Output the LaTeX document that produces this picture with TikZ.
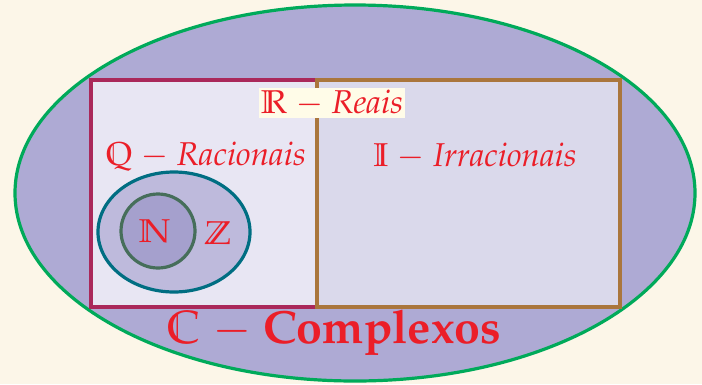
\documentclass[tikz,border=0pt]{standalone}
\usepackage[T1]{fontenc}
\usepackage{mathpazo}
\usepackage{tikz}
\definecolor{creme}{RGB}{252,246,232}
\definecolor{lilas}{RGB}{174,170,212}
\definecolor{verdeC}{RGB}{0,170,90}
\definecolor{bordoQ}{RGB}{170,40,90}
\definecolor{fundoQ}{RGB}{232,230,243}
\definecolor{marromI}{RGB}{170,118,60}
\definecolor{fundoI}{RGB}{218,217,235}
\definecolor{tealZ}{RGB}{0,110,130}
\definecolor{fundoZ}{RGB}{190,186,220}
\definecolor{cinzaN}{RGB}{70,110,90}
\definecolor{fundoN}{RGB}{165,160,205}
\definecolor{amarelo}{RGB}{255,252,232}
\definecolor{vermelho}{RGB}{235,30,40}
\tikzset{
  conjlabel/.style={
    text=vermelho, inner sep=2pt,
    font=\fontsize{33}{36}\selectfont
  },
  conjborda/.style={line width=3.2pt}
}

\begin{document}
\begin{tikzpicture}[x=1pt, y=-1pt]
    \useasboundingbox[fill=creme] (0,0) rectangle (702,384);
    % C: complexos
    \draw[conjborda, draw=verdeC, fill=lilas] (355,193) ellipse [x radius=340, y radius=188];
    % Q e I
    \draw[conjborda, draw=bordoQ, fill=fundoQ] (91,80) rectangle (317,307);
    \draw[conjborda, draw=marromI, fill=fundoI] (317,80) rectangle (620,307);
    % Z e N
    \draw[conjborda, draw=tealZ, fill=fundoZ] (174,232) ellipse [x radius=76, y radius=60];
    \draw[conjborda, draw=cinzaN, fill=fundoN] (158,231) circle [radius=37];
    \node[conjlabel, fill=amarelo] (reais) at (332,103) {$\mathbb{R}$ $-$ \textit{Reais}};
    \node[conjlabel] (racionais) at (206,156) {$\mathbb{Q}$ $-$ \textit{Racionais}};
    \node[conjlabel] (irracionais) at (475,156) {$\mathbb{I}$ $-$ \textit{Irracionais}};
    \node[conjlabel] (naturais) at (155,231) {$\mathbb{N}$};
    \node[conjlabel] (inteiros) at (218,233) {$\mathbb{Z}$};
    \node[conjlabel, font=\fontsize{46.5}{50}\selectfont\bfseries] (complexos) at (334,333) {$\mathbb{C}$ $-$ Complexos};
\end{tikzpicture}
\end{document}
